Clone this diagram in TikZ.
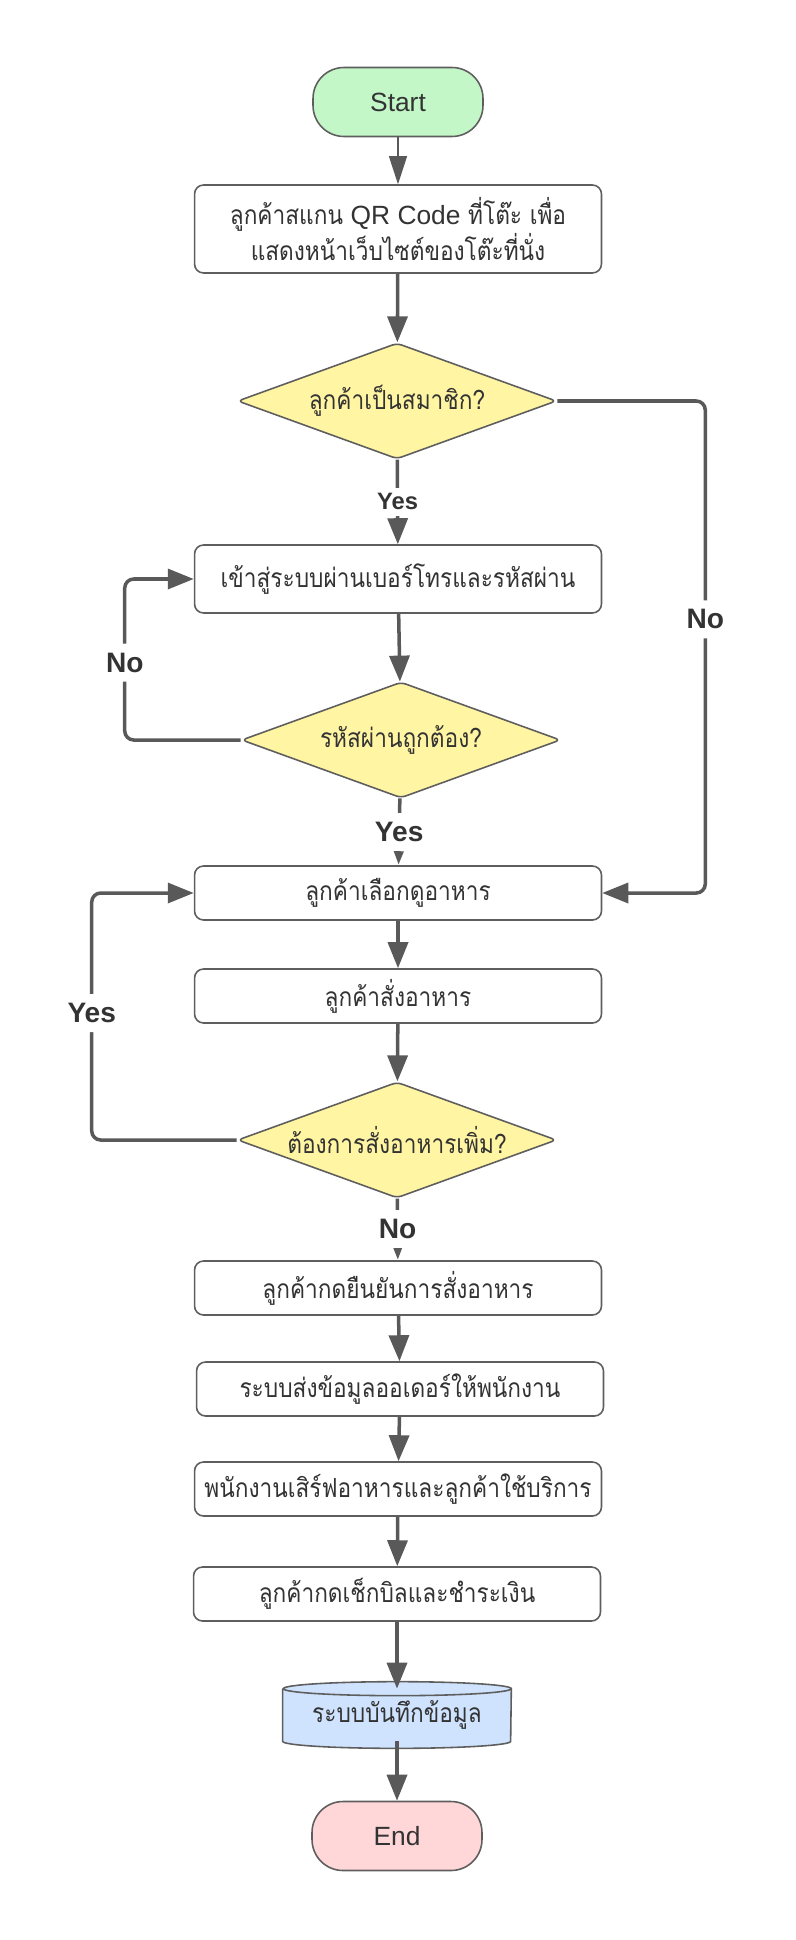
\documentclass[tikz,border=0pt]{standalone}
\usepackage{fontspec}
\setmainfont{Liberation Sans}
\newfontfamily\thaifont[Script=Thai, FakeStretch=0.86]{Loma}
\usetikzlibrary{shapes.geometric,arrows.meta}
\definecolor{linegray}{HTML}{595959}
\definecolor{edgegray}{HTML}{5E5E5E}
\definecolor{txtgray}{HTML}{333333}
\definecolor{startgreen}{HTML}{C3F7C8}
\definecolor{endpink}{HTML}{FFD7D8}
\definecolor{decyellow}{HTML}{FFF5A3}
\definecolor{dbblue}{HTML}{CFE3FE}
\tikzset{
  term/.style={draw=edgegray, line width=0.9pt, rounded corners=0.62cm,
    minimum width=3.4cm, minimum height=1.38cm, text=txtgray,
    font=\fontsize{15}{15}\selectfont},
  proc/.style={draw=edgegray, line width=0.9pt, rounded corners=0.18cm,
    fill=white, minimum width=8.14cm, minimum height=1.08cm, text=txtgray,
    font=\thaifont\fontsize{15}{17}\selectfont, align=center},
  dec/.style={diamond, draw=edgegray, line width=0.9pt, fill=decyellow,
    rounded corners=0.1cm, minimum width=6.38cm, minimum height=2.32cm,
    aspect=2.75, inner sep=0pt, text=txtgray,
    font=\thaifont\fontsize{15}{17}\selectfont},
  dbtext/.style={minimum width=4.56cm, minimum height=1.04cm, text=txtgray,
    font=\thaifont\fontsize{15}{17}\selectfont},
  flow/.style={draw=linegray, line width=2pt,
    -{Triangle[length=0.52cm,width=0.4cm]}},
  startflow/.style={draw=linegray, line width=0.6pt,
    -{Triangle[length=0.56cm,width=0.36cm]}},
  shortflow/.style={draw=linegray, line width=2pt,
    -{Triangle[length=0.28cm,width=0.18cm]}},
  lbl/.style={fill=white, text=txtgray, inner sep=1.5pt, minimum height=0.76cm,
    font=\bfseries\fontsize{16}{16}\selectfont},
}
\begin{document}
\begin{tikzpicture}[x=0.02cm, y=-0.02cm]
  \useasboundingbox (0,0) rectangle (795,1940);
  % terminals and steps
  \node[term, fill=startgreen] (start) at (398,102) {Start};
  \node[proc, minimum height=1.76cm] (scan) at (398,229)
    {ลูกค้าสแกน {\rmfamily QR Code} ที่โต๊ะ เพื่อ\\แสดงหน้าเว็บไซต์ของโต๊ะที่นั่ง};
  \node[dec] (member) at (397,401) {ลูกค้าเป็นสมาชิก?};
  \node[proc, minimum height=1.36cm] (login) at (398,579) {เข้าสู่ระบบผ่านเบอร์โทรและรหัสผ่าน};
  \node[dec] (pwok) at (401,740) {รหัสผ่านถูกต้อง?};
  \node[proc] (browse) at (398,893) {ลูกค้าเลือกดูอาหาร};
  \node[proc] (order) at (398,996) {ลูกค้าสั่งอาหาร};
  \node[dec] (more) at (397,1140) {ต้องการสั่งอาหารเพิ่ม?};
  \node[proc] (confirm) at (398,1288) {ลูกค้ากดยืนยันการสั่งอาหาร};
  \node[proc] (notify) at (400,1389) {ระบบส่งข้อมูลออเดอร์ให้พนักงาน};
  \node[proc] (serve) at (398,1489) {พนักงานเสิร์ฟอาหารและลูกค้าใช้บริการ};
  \node[proc] (pay) at (397,1594) {ลูกค้ากดเช็กบิลและชำระเงิน};
  % database drum
  \fill[dbblue] (397,1689) ellipse[x radius=2.28cm, y radius=0.14cm];
  \node[dbtext, fill=dbblue] (db) at (397,1715) {ระบบบันทึกข้อมูล};
  \fill[dbblue] (397,1741) ellipse[x radius=2.28cm, y radius=0.14cm];
  \draw[edgegray, line width=0.9pt] (db.north west) -- (db.south west)
    arc[start angle=180, end angle=360, x radius=2.28cm, y radius=0.14cm]
    -- (db.north east)
    arc[start angle=0, end angle=180, x radius=2.28cm, y radius=0.14cm]
    arc[start angle=180, end angle=360, x radius=2.28cm, y radius=0.14cm];
  \node[term, fill=endpink] (end) at (397,1836) {End};
  % connectors
  \draw[startflow] (start) -- (scan);
  \foreach \a/\b in {scan/member, login/pwok, browse/order, order/more,
      confirm/notify, notify/serve, serve/pay, pay/db, db/end}
    \draw[flow] (\a) -- (\b);
  \draw[flow] (member) -- node[lbl, minimum height=0.56cm,
    font=\bfseries\fontsize{13.5}{14}\selectfont] {Yes} (login);
  \draw[shortflow] (pwok) -- node[lbl] {Yes} (browse);
  \draw[shortflow] (more) -- node[lbl] {No} (confirm);
  \draw[flow, rounded corners=0.18cm] (member.east) -- ++(148,0)
    |- node[lbl, pos=0.222] {No} (browse.east);
  \draw[flow, rounded corners=0.18cm] (pwok.west) -- ++(-116,0)
    |- node[lbl, pos=0.24] {No} (login.west);
  \draw[flow, rounded corners=0.18cm] (more.west) -- ++(-145,0)
    |- node[lbl, pos=0.257] {Yes} (browse.west);
\end{tikzpicture}
\end{document}
